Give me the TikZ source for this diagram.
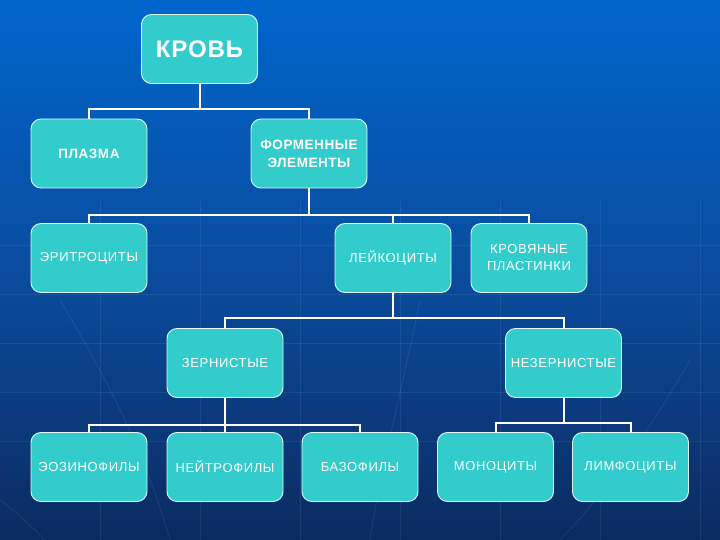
\documentclass[tikz,border=0pt]{standalone}
\usepackage{fontspec}
\setmainfont{Liberation Sans}
\newfontfamily\boxfont[LetterSpace=5]{Liberation Sans}
\newfontfamily\boldfont[LetterSpace=4]{Liberation Sans}
\definecolor{turq}{HTML}{33CCCC}
\definecolor{bgtop}{HTML}{0066CC}
\definecolor{bgmid}{HTML}{0A4C9F}
\definecolor{bgbot}{HTML}{0B2B60}
\tikzset{
  box/.style={rectangle, rounded corners=10pt, fill=turq, draw=white!85!turq,
    line width=0.9pt, minimum width=116pt, minimum height=69pt, text=white,
    align=center, inner sep=2pt, font=\boxfont\fontsize{13}{17}\selectfont},
  boldbox/.style={box, font=\boldfont\bfseries\fontsize{13.5}{18}\selectfont},
  conn/.style={draw=white, line width=2pt},
  deco/.style={draw=white, opacity=0.07, line width=1pt}
}
\begin{document}
\begin{tikzpicture}[x=1pt,y=-1pt]
\useasboundingbox (0,0) rectangle (720,540);
\shade[top color=bgtop, bottom color=bgbot, middle color=bgmid] (0,0) rectangle (720,540);
% faint background grid and curves
\foreach \yy in {245,294,343,392,441} \draw[deco] (0,\yy) -- (720,\yy);
\foreach \xx in {100,200,300,400,500,600,700} \draw[deco] (\xx,200) -- (\xx,540);
\draw[deco] (60,300) .. controls (120,400) and (150,470) .. (170,540);
\draw[deco] (420,300) .. controls (400,400) and (380,470) .. (370,540);
\draw[deco] (690,360) .. controls (650,430) and (600,500) .. (560,540);
\draw[deco] (0,500) .. controls (20,515) and (35,530) .. (45,540);

\node[box, font=\boldfont\bfseries\fontsize{24}{27}\selectfont] (krov) at (199.5,49) {КРОВЬ};
\node[boldbox] (plazma) at (89,153.5) {ПЛАЗМА};
\node[boldbox] (form) at (309,153.5) {ФОРМЕННЫЕ\\ЭЛЕМЕНТЫ};
\node[box] (erit) at (89,258) {ЭРИТРОЦИТЫ};
\node[box] (leik) at (393,258) {ЛЕЙКОЦИТЫ};
\node[box] (plast) at (529,258) {КРОВЯНЫЕ\\ПЛАСТИНКИ};
\node[box] (zern) at (225,363) {ЗЕРНИСТЫЕ};
\node[box] (nezern) at (563.5,363) {НЕЗЕРНИСТЫЕ};
\node[box] (eoz) at (89,467) {ЭОЗИНОФИЛЫ};
\node[box] (neit) at (225,467) {НЕЙТРОФИЛЫ};
\node[box] (baz) at (360,467) {БАЗОФИЛЫ};
\node[box] (mono) at (495.5,467) {МОНОЦИТЫ};
\node[box] (limf) at (630.5,467) {ЛИМФОЦИТЫ};

\draw[conn] (krov.south) |- ([yshift=10pt]plazma.north) -- (plazma.north);
\draw[conn] (krov.south) |- ([yshift=10pt]form.north) -- (form.north);

\draw[conn] (form.south) |- ([yshift=8pt]erit.north) -- (erit.north);
\draw[conn] (form.south) |- ([yshift=8pt]leik.north) -- (leik.north);
\draw[conn] (form.south) |- ([yshift=8pt]plast.north) -- (plast.north);

\draw[conn] (leik.south) |- ([yshift=10pt]zern.north) -- (zern.north);
\draw[conn] (leik.south) |- ([yshift=10pt]nezern.north) -- (nezern.north);

\draw[conn] (zern.south) |- ([yshift=7pt]eoz.north) -- (eoz.north);
\draw[conn] (zern.south) -- (neit.north);
\draw[conn] (zern.south) |- ([yshift=7pt]baz.north) -- (baz.north);

\draw[conn] (nezern.south) |- ([yshift=9pt]mono.north) -- (mono.north);
\draw[conn] (nezern.south) |- ([yshift=9pt]limf.north) -- (limf.north);
\end{tikzpicture}
\end{document}
